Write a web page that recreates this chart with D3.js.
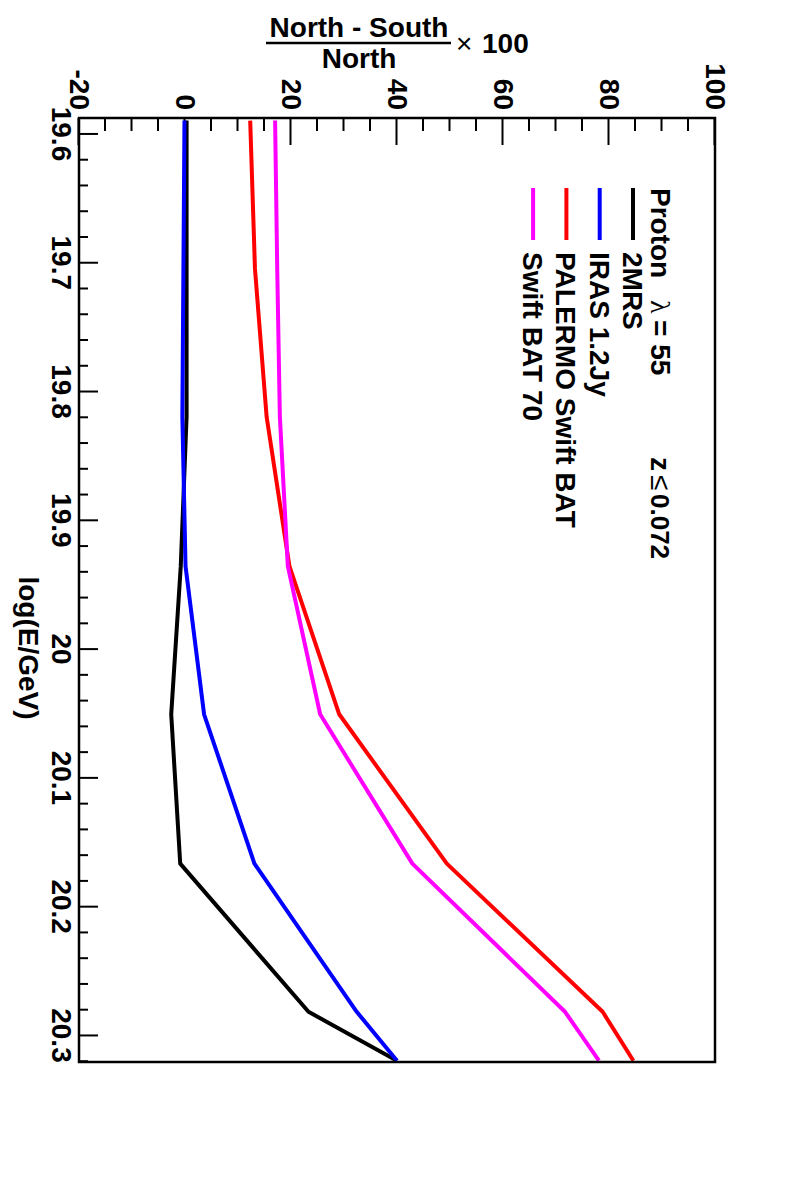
<!DOCTYPE html>
<html>
<head>
<meta charset="utf-8">
<script src="https://cdn.jsdelivr.net/npm/d3@7"></script>
<style>
  body { margin: 0; background: #fff; }
  svg { display: block; font-family: "Liberation Sans", Arial, Helvetica, sans-serif; font-weight: bold; }
  .tick line { stroke: #000; stroke-width: 2; }
  .tick text { font-size: 28px; fill: #000; }
</style>
</head>
<body>
<svg id="plot" width="794" height="1182"></svg>
<script>
// energy points (log E) and north-south asymmetry in percent
const logE     = [19.59, 19.705, 19.82, 19.936, 20.051, 20.167, 20.282, 20.32];
const mrs2     = [0.3, 0.3, 0.3, -0.8, -2.6, -0.9, 23.3, 40.0];
const iras     = [-0.1, -0.3, -0.5, 0.1, 3.6, 13.1, 32.4, 40.0];
const palermo  = [12.3, 13.2, 15.4, 19.7, 29.1, 49.4, 78.8, 84.6];
const swift70  = [17.0, 17.4, 17.9, 19.4, 25.5, 42.9, 71.7, 78.1];

const seriesNames  = ["2MRS", "IRAS 1.2Jy", "PALERMO Swift BAT", "Swift BAT 70"];
const seriesValues = [mrs2, iras, palermo, swift70];
const seriesColors = ["#000000", "#0000ff", "#ff0000", "#ff00ff"];

const xMajor = [19.6, 19.7, 19.8, 19.9, 20.0, 20.1, 20.2, 20.3];
const xLabels = ["19.6", "19.7", "19.8", "19.9", "20", "20.1", "20.2", "20.3"];
const yMajor = [-20, 0, 20, 40, 60, 80, 100];
const yLabels = ["-20", "0", "20", "40", "60", "80", "100"];

const svg = d3.select("#plot");
const H = 794;   // chart is drawn landscape, then turned a quarter clockwise
const frame = {left: 118, right: 1062, top: 79, bottom: 715};

const g = svg.append("g")
    .attr("transform", `translate(${H},0) rotate(90)`);

const xScale = d3.scaleLinear()
    .domain([19.588, 20.321])
    .range([frame.left, frame.right]);

const yScale = d3.scaleLinear()
    .domain([-20, 100])
    .range([frame.bottom, frame.top]);

// minor ticks
const xMinor = d3.range(19.6, 20.33, 0.02).map(v => +v.toFixed(2))
    .filter(v => v <= 20.321 && !xMajor.some(m => Math.abs(m - v) < 1e-6));
const yMinor = d3.range(-20, 101, 5).filter(v => v % 20 !== 0);

g.append("g")
    .attr("transform", `translate(0,${frame.bottom})`)
    .call(d3.axisBottom(xScale).tickValues(xMinor).tickSize(-9).tickFormat(""))
    .call(a => a.select(".domain").remove());

g.append("g")
    .attr("transform", `translate(0,${frame.bottom})`)
    .call(d3.axisBottom(xScale).tickValues(xMajor).tickSize(-19).tickPadding(7)
        .tickFormat((d, i) => xLabels[i]))
    .call(a => a.select(".domain").remove());

g.append("g")
    .attr("transform", `translate(${frame.left},0)`)
    .call(d3.axisLeft(yScale).tickValues(yMinor).tickSize(-13).tickFormat(""))
    .call(a => a.select(".domain").remove());

g.append("g")
    .attr("transform", `translate(${frame.left},0)`)
    .call(d3.axisLeft(yScale).tickValues(yMajor).tickSize(-27).tickPadding(8)
        .tickFormat((d, i) => yLabels[i]))
    .call(a => a.select(".domain").remove());

// axis title
g.append("text")
    .attr("x", 648)
    .attr("y", 775)
    .attr("text-anchor", "middle")
    .attr("font-size", 28)
    .text("log(E/GeV)");

// curves
g.append("clipPath").attr("id", "clip")
    .append("rect")
    .attr("x", frame.left).attr("y", frame.top)
    .attr("width", frame.right - frame.left)
    .attr("height", frame.bottom - frame.top);

const line = d3.line()
    .x((d, i) => xScale(logE[i]))
    .y(d => yScale(d));

g.append("g")
    .attr("clip-path", "url(#clip)")
    .selectAll("path")
    .data(seriesValues)
    .join("path")
    .attr("d", line)
    .attr("fill", "none")
    .attr("stroke", (d, i) => seriesColors[i])
    .attr("stroke-width", 4)
    .attr("stroke-linejoin", "round");

// frame
g.append("rect")
    .attr("x", frame.left).attr("y", frame.top)
    .attr("width", frame.right - frame.left)
    .attr("height", frame.bottom - frame.top)
    .attr("fill", "none")
    .attr("stroke", "#000")
    .attr("stroke-width", 2.5);

// legend
const header = g.append("text")
    .attr("x", 188)
    .attr("y", 143)
    .attr("font-size", 28);
header.append("tspan").text("Proton");
header.append("tspan").attr("x", 300).attr("font-weight", "normal")
    .attr("font-family", "'Liberation Serif', serif").text("λ");
header.append("tspan").attr("x", 320).text("= 55");
header.append("tspan").attr("x", 457).text("z");
header.append("tspan").attr("x", 475).attr("font-weight", "normal").text("≤");
header.append("tspan").attr("x", 494).attr("font-size", 26).text("0.072");

const legend = g.append("g");
const rows = legend.selectAll("g")
    .data(seriesNames)
    .join("g")
    .attr("transform", (d, i) => `translate(188,${161 + i * 33.3})`);

rows.append("line")
    .attr("x1", 0).attr("x2", 52)
    .attr("stroke", (d, i) => seriesColors[i])
    .attr("stroke-width", 4);

rows.append("text")
    .attr("x", 64)
    .attr("y", 10)
    .attr("font-size", 28)
    .text(d => d);

// value axis title, drawn upright at the top of the page
const title = svg.append("g").attr("font-size", 28);
title.append("text")
    .attr("x", 359).attr("y", 37)
    .attr("text-anchor", "middle")
    .text("North - South");
title.append("line")
    .attr("x1", 266).attr("x2", 451)
    .attr("y1", 43).attr("y2", 43)
    .attr("stroke", "#000").attr("stroke-width", 2.5);
title.append("text")
    .attr("x", 359).attr("y", 68)
    .attr("text-anchor", "middle")
    .text("North");
title.append("text")
    .attr("x", 456).attr("y", 53)
    .attr("font-weight", "normal")
    .text("×");
title.append("text")
    .attr("x", 482).attr("y", 53)
    .text("100");
</script>
</body>
</html>
